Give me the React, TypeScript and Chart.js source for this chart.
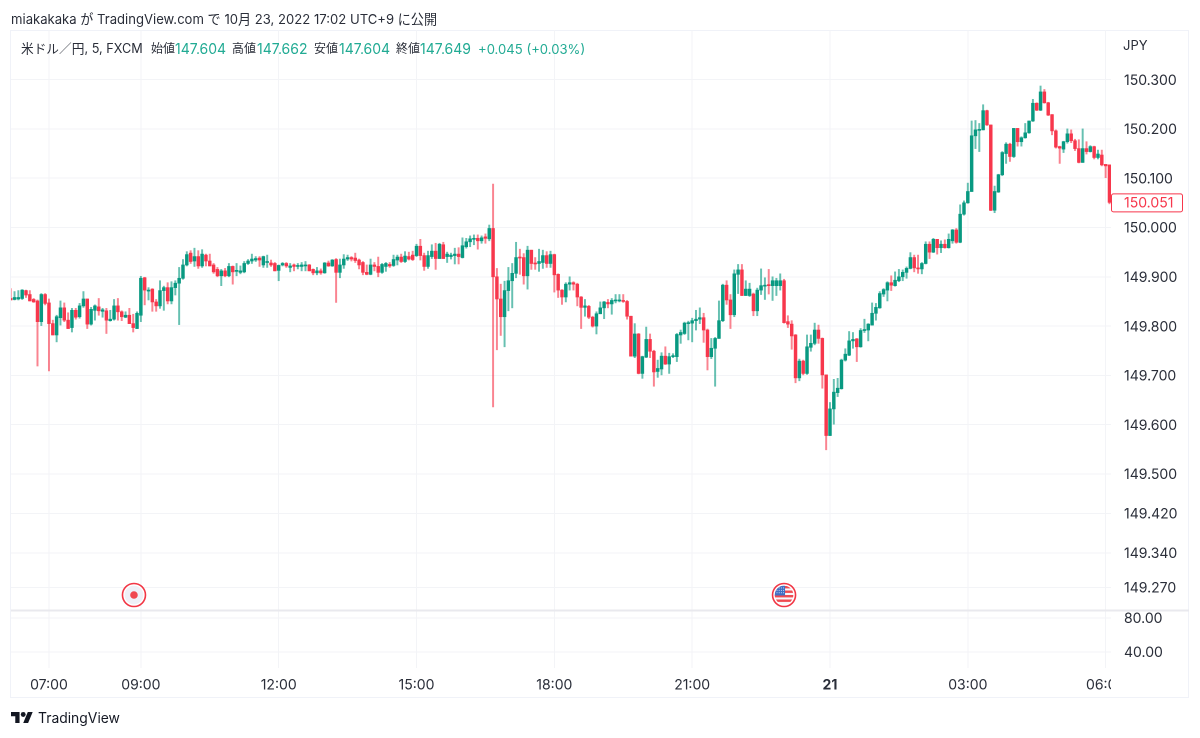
import React, { useEffect, useRef } from "react";
import { Chart, registerables } from "chart.js";

Chart.register(...registerables);

const opens = [
149.856,149.854,149.855,149.856,149.872,149.864,149.854,149.851,149.809,149.864,149.847,149.805,
149.782,149.817,149.837,149.812,149.797,149.832,149.819,149.841,149.855,149.804,149.832,149.839,
149.830,149.831,149.811,149.814,149.841,149.829,149.818,149.822,149.805,149.795,149.822,149.898,
149.871,149.875,149.849,149.841,149.872,149.878,149.851,149.878,149.887,149.897,149.924,149.948,
149.932,149.941,149.922,149.944,149.932,149.924,149.915,149.902,149.912,149.902,149.921,149.911,
149.909,149.910,149.927,149.932,149.934,149.938,149.924,149.929,149.928,149.927,149.913,149.924,
149.927,149.919,149.924,149.921,149.921,149.922,149.924,149.915,149.908,149.912,149.908,149.928,
149.922,149.935,149.909,149.924,149.936,149.939,149.938,149.934,149.929,149.909,149.905,149.924,
149.921,149.909,149.921,149.925,149.923,149.934,149.940,149.931,149.941,149.944,149.943,149.962,
149.943,149.921,149.941,149.952,149.937,149.965,149.941,149.941,149.943,149.946,149.939,149.961,
149.971,149.976,149.978,149.973,149.981,149.977,149.998,149.900,149.855,149.819,149.872,149.892,
149.907,149.940,149.939,149.902,149.954,149.928,149.927,149.929,149.943,149.927,149.945,149.905,
149.873,149.859,149.885,149.888,149.885,149.859,149.838,149.840,149.818,149.800,149.825,149.837,
149.848,149.845,149.851,149.851,149.852,149.850,149.820,149.739,149.784,149.704,149.737,149.773,
149.749,149.708,149.713,149.739,149.723,149.738,149.738,149.782,149.785,149.805,149.806,149.811,
149.814,149.817,149.792,149.738,149.755,149.775,149.811,149.883,149.853,149.823,149.905,149.914,
149.862,149.862,149.865,149.831,149.873,149.881,149.883,149.882,149.882,149.882,149.892,149.809,
149.804,149.782,149.695,149.729,149.704,149.757,149.765,149.792,149.775,149.701,149.578,149.632,
149.665,149.673,149.731,149.741,149.770,149.774,149.758,149.791,149.792,149.802,149.826,149.837,
149.865,149.873,149.888,149.882,149.892,149.900,149.909,149.917,149.939,149.918,149.916,149.927,
149.966,149.950,149.976,149.959,149.966,149.959,149.973,149.995,149.970,150.027,150.050,150.073,
150.186,150.197,150.198,150.237,150.208,150.035,150.072,150.107,150.150,150.169,150.144,150.201,
150.174,150.182,150.192,150.216,150.252,150.238,150.275,150.253,150.229,150.196,150.164,150.159,
150.174,150.190,150.176,150.160,150.132,150.160,150.154,150.164,150.142,150.147,150.128,150.127,
];

const highs = [
149.876,149.870,149.872,149.874,149.873,149.872,149.856,149.853,149.866,149.866,149.855,149.812,
149.822,149.851,149.847,149.827,149.836,149.836,149.846,149.870,149.855,149.838,149.843,149.856,
149.836,149.836,149.832,149.854,149.856,149.831,149.829,149.836,149.824,149.829,149.901,149.899,
149.878,149.876,149.854,149.892,149.881,149.888,149.890,149.892,149.919,149.935,149.951,149.953,
149.958,149.953,149.955,149.946,149.946,149.927,149.919,149.915,149.917,149.927,149.922,149.927,
149.922,149.931,149.935,149.946,149.941,149.941,149.942,149.944,149.934,149.929,149.924,149.929,
149.929,149.927,149.926,149.927,149.929,149.931,149.925,149.916,149.919,149.916,149.929,149.932,
149.935,149.937,149.936,149.945,149.944,149.941,149.948,149.936,149.931,149.924,149.936,149.929,
149.940,149.927,149.929,149.929,149.944,149.944,149.946,149.951,149.950,149.952,149.966,149.976,
149.948,149.952,149.965,149.968,149.968,149.970,149.950,149.948,149.958,149.959,149.979,149.978,
149.983,149.985,149.985,149.983,149.987,150.005,150.088,149.917,149.885,149.891,149.919,149.927,
149.970,149.956,149.947,149.962,149.954,149.939,149.956,149.954,149.951,149.952,149.946,149.906,
149.874,149.888,149.900,149.890,149.887,149.860,149.854,149.842,149.820,149.829,149.849,149.850,
149.854,149.856,149.864,149.864,149.864,149.852,149.820,149.805,149.785,149.739,149.798,149.784,
149.751,149.731,149.746,149.758,149.745,149.744,149.785,149.792,149.808,149.810,149.816,149.832,
149.837,149.826,149.794,149.775,149.777,149.851,149.885,149.892,149.864,149.914,149.925,149.925,
149.892,149.887,149.867,149.877,149.916,149.898,149.915,149.900,149.897,149.906,149.895,149.821,
149.811,149.783,149.733,149.731,149.782,149.782,149.806,149.802,149.776,149.701,149.645,149.692,
149.694,149.733,149.754,149.789,149.787,149.775,149.795,149.814,149.805,149.847,149.846,149.870,
149.876,149.890,149.902,149.910,149.915,149.914,149.920,149.949,149.944,149.944,149.929,149.971,
149.971,149.978,149.976,149.973,149.975,149.987,149.996,149.998,150.046,150.054,150.090,150.216,
150.217,150.211,150.249,150.238,150.208,150.084,150.108,150.154,150.172,150.171,150.201,150.201,
150.184,150.211,150.216,150.260,150.253,150.287,150.280,150.254,150.229,150.198,150.165,150.175,
150.200,150.198,150.179,150.178,150.200,150.174,150.166,150.165,150.157,150.157,150.128,150.127,
];

const lows = [
149.853,149.853,149.853,149.854,149.858,149.851,149.848,149.719,149.801,149.843,149.709,149.782,
149.768,149.802,149.809,149.795,149.788,149.814,149.816,149.838,149.795,149.802,149.812,149.822,
149.818,149.785,149.810,149.812,149.812,149.811,149.817,149.805,149.788,149.795,149.809,149.843,
149.853,149.830,149.830,149.836,149.832,149.845,149.845,149.863,149.803,149.895,149.922,149.927,
149.921,149.917,149.919,149.922,149.922,149.907,149.900,149.882,149.900,149.900,149.885,149.902,
149.906,149.908,149.925,149.927,149.931,149.921,149.919,149.919,149.921,149.912,149.892,149.922,
149.919,149.910,149.912,149.916,149.912,149.912,149.912,149.904,149.904,149.905,149.907,149.921,
149.921,149.848,149.898,149.917,149.933,149.932,149.929,149.916,149.904,149.904,149.904,149.912,
149.900,149.907,149.911,149.919,149.921,149.924,149.929,149.929,149.934,149.933,149.941,149.934,
149.913,149.917,149.937,149.915,149.937,149.937,149.929,149.936,149.926,149.926,149.938,149.958,
149.961,149.965,149.956,149.968,149.968,149.973,149.636,149.752,149.781,149.758,149.831,149.837,
149.898,149.905,149.885,149.875,149.915,149.915,149.911,149.917,149.919,149.919,149.869,149.858,
149.844,149.849,149.873,149.873,149.841,149.795,149.820,149.815,149.798,149.784,149.825,149.815,
149.837,149.824,149.847,149.849,149.848,149.814,149.739,149.736,149.703,149.694,149.736,149.736,
149.678,149.696,149.701,149.722,149.704,149.736,149.728,149.765,149.783,149.772,149.768,149.792,
149.805,149.767,149.711,149.734,149.678,149.775,149.809,149.844,149.795,149.819,149.866,149.862,
149.862,149.860,149.821,149.821,149.864,149.854,149.865,149.852,149.862,149.873,149.806,149.797,
149.753,149.685,149.689,149.701,149.702,149.749,149.762,149.765,149.674,149.549,149.578,149.601,
149.657,149.672,149.729,149.740,149.755,149.728,149.757,149.787,149.770,149.802,149.812,149.836,
149.860,149.851,149.872,149.881,149.890,149.892,149.897,149.916,149.910,149.907,149.906,149.926,
149.937,149.949,149.946,149.949,149.958,149.958,149.968,149.968,149.969,150.025,150.049,150.073,
150.160,150.154,150.198,150.207,150.034,150.030,150.071,150.105,150.130,150.134,150.142,150.165,
150.165,150.181,150.191,150.215,150.237,150.237,150.252,150.227,150.188,150.161,150.130,150.152,
150.171,150.172,150.156,150.131,150.132,150.149,150.153,150.139,150.139,150.125,150.101,150.048,
];

const closes = [
149.853,149.858,149.858,149.873,149.863,149.851,149.849,149.809,149.864,149.846,149.805,149.782,
149.819,149.837,149.812,149.795,149.832,149.818,149.841,149.855,149.804,149.834,149.841,149.831,
149.833,149.812,149.814,149.841,149.829,149.819,149.822,149.805,149.797,149.826,149.897,149.873,
149.873,149.849,149.841,149.872,149.878,149.851,149.878,149.887,149.897,149.924,149.945,149.931,
149.941,149.922,149.946,149.932,149.922,149.910,149.902,149.912,149.902,149.921,149.910,149.913,
149.912,149.927,149.932,149.936,149.937,149.934,149.941,149.931,149.924,149.912,149.923,149.927,
149.922,149.922,149.921,149.923,149.924,149.924,149.912,149.908,149.912,149.908,149.928,149.922,
149.934,149.909,149.924,149.936,149.939,149.936,149.933,149.924,149.909,149.905,149.924,149.921,
149.909,149.925,149.927,149.922,149.935,149.940,149.931,149.942,149.936,149.935,149.962,149.943,
149.921,149.943,149.952,149.937,149.966,149.937,149.946,149.944,149.946,149.941,149.963,149.971,
149.977,149.978,149.973,149.979,149.978,149.998,149.900,149.855,149.819,149.872,149.892,149.907,
149.939,149.938,149.902,149.954,149.927,149.926,149.931,149.943,149.927,149.945,149.904,149.873,
149.859,149.885,149.888,149.885,149.859,149.838,149.841,149.818,149.800,149.825,149.837,149.849,
149.845,149.852,149.853,149.853,149.850,149.820,149.739,149.784,149.704,149.738,149.773,149.749,
149.707,149.714,149.739,149.723,149.738,149.740,149.783,149.787,149.806,149.807,149.811,149.814,
149.817,149.792,149.738,149.755,149.775,149.811,149.883,149.853,149.823,149.906,149.914,149.862,
149.875,149.875,149.831,149.873,149.882,149.883,149.882,149.892,149.892,149.892,149.807,149.804,
149.780,149.695,149.729,149.704,149.758,149.765,149.792,149.775,149.701,149.578,149.632,149.666,
149.674,149.731,149.743,149.770,149.773,149.758,149.791,149.793,149.804,149.826,149.838,149.866,
149.874,149.888,149.883,149.893,149.900,149.909,149.917,149.939,149.918,149.916,149.927,149.966,
149.950,149.976,149.959,149.966,149.959,149.976,149.995,149.970,150.027,150.050,150.073,150.186,
150.198,150.199,150.237,150.208,150.035,150.073,150.107,150.152,150.169,150.144,150.201,150.174,
150.182,150.192,150.216,150.252,150.238,150.275,150.253,150.228,150.196,150.163,150.161,150.174,
150.190,150.176,150.160,150.132,150.160,150.154,150.164,150.142,150.149,150.127,150.125,150.051,
];

const timeTickIndex = [10, 34, 70, 106, 142, 178, 214, 250, 286];
const timeTickLabels = ["07:00", "09:00", "12:00", "15:00", "18:00", "21:00", "21", "03:00", "06:00"];
const priceTicks = [150.3, 150.2, 150.1, 150.0, 149.9, 149.8, 149.7, 149.6, 149.5, 149.42, 149.34, 149.27];
const indicatorTicks = [80, 40];
const lastPrice = 150.051;
const dotEventIndex = 32.2;
const flagEventIndex = 202;

const UP = "#089981";
const DOWN = "#f7374c";
const UP_WICK = "rgba(8,153,129,0.62)";
const DOWN_WICK = "rgba(247,55,76,0.62)";
const GRID = "#f3f4f7";
const FRAME = "#f0f2f8";
const TEXT = "#2a2e39";
const FONT = "Inter, 'Noto Sans CJK JP', sans-serif";

const panePlugin = {
  id: "panes",
  beforeDraw(chart: any) {
    const { ctx } = chart;
    ctx.save();
    ctx.fillStyle = "#ffffff";
    ctx.fillRect(0, 0, chart.width, chart.height);
    ctx.strokeStyle = FRAME;
    ctx.lineWidth = 1;
    ctx.strokeRect(10.5, 30.5, 1178, 667);
    ctx.restore();
  },
  afterDraw(chart: any) {
    const { ctx, scales } = chart;
    const x = scales.x;
    const y = scales.y;
    ctx.save();
    // pane separator
    ctx.fillStyle = "#e9e9ee";
    ctx.fillRect(11, y.bottom - 0.5, 1178, 2);
    // time label is cut off by the right edge of the time axis
    ctx.fillStyle = "#ffffff";
    ctx.fillRect(x.right, 670, 40, 26);

    // last price label
    const py = y.getPixelForValue(lastPrice);
    ctx.beginPath();
    ctx.roundRect(1111.5, py - 8.5, 71, 18, 2);
    ctx.fillStyle = "#ffffff";
    ctx.fill();
    ctx.strokeStyle = DOWN;
    ctx.lineWidth = 1;
    ctx.stroke();
    ctx.fillStyle = DOWN;
    ctx.font = "14px " + FONT;
    ctx.textBaseline = "middle";
    ctx.textAlign = "left";
    ctx.fillText(lastPrice.toFixed(3), 1124, py + 1);

    // event markers
    const my = y.bottom - 15;
    const ring = (cx: number) => {
      ctx.beginPath();
      ctx.arc(cx, my, 11.5, 0, Math.PI * 2);
      ctx.fillStyle = "#ffffff";
      ctx.fill();
      ctx.strokeStyle = "#f23645";
      ctx.lineWidth = 1.6;
      ctx.stroke();
    };
    const dx = x.getPixelForValue(dotEventIndex);
    ring(dx);
    ctx.beginPath();
    ctx.arc(dx, my, 9.3, 0, Math.PI * 2);
    ctx.fillStyle = "#eef0f7";
    ctx.fill();
    ctx.beginPath();
    ctx.arc(dx, my, 3.8, 0, Math.PI * 2);
    ctx.fillStyle = "#f0474f";
    ctx.fill();

    const fx = x.getPixelForValue(flagEventIndex);
    ring(fx);
    ctx.save();
    ctx.beginPath();
    ctx.arc(fx, my, 9.3, 0, Math.PI * 2);
    ctx.clip();
    ctx.fillStyle = "#f7f7fb";
    ctx.fillRect(fx - 10, my - 10, 20, 20);
    ctx.fillStyle = "#ef4a50";
    for (const s of [-9, -4.5, 0, 4.5]) ctx.fillRect(fx - 10, my + s, 20, 2.4);
    ctx.fillStyle = "#3f6fc4";
    ctx.fillRect(fx - 10, my - 10, 11, 10.5);
    ctx.fillStyle = "#dfe7f7";
    for (let r = 0; r < 3; r++) for (let c = 0; c < 4; c++) ctx.fillRect(fx - 7.5 + c * 2.2, my - 7.5 + r * 2.4, 0.9, 0.9);
    ctx.restore();
    ctx.restore();
  },
};

const abs = (left: number, top: number, size: number, extra: any = {}) => ({
  position: "absolute",
  left,
  top,
  fontSize: size,
  lineHeight: "18px",
  whiteSpace: "nowrap",
  fontFamily: FONT,
  color: TEXT,
  ...extra,
});

const GREEN_TXT = "#22ab94";

export default function App() {
  const ref = useRef<HTMLCanvasElement>(null);
  useEffect(() => {
    const idx = opens.map((_, i) => i);
    const isUp = (i: number) => closes[i] >= opens[i];
    const chart = new Chart(ref.current as any, {
      type: "bar",
      data: {
        datasets: [
          {
            label: "wick",
            data: idx.map((i) => ({ x: i, y: [lows[i], highs[i]] })) as any,
            backgroundColor: idx.map((i) => (isUp(i) ? UP_WICK : DOWN_WICK)),
            barThickness: 1.3,
            grouped: false,
            order: 2,
          } as any,
          {
            label: "body",
            data: idx.map((i) => ({ x: i, y: [opens[i], closes[i]] })) as any,
            backgroundColor: idx.map((i) => (isUp(i) ? UP : DOWN)),
            barThickness: 2.8,
            minBarLength: 1,
            grouped: false,
            order: 1,
          } as any,
        ],
      },
      plugins: [panePlugin as any],
      options: {
        responsive: false,
        animation: false,
        devicePixelRatio: 2,
        layout: { padding: { left: 11, top: 30, right: 11, bottom: 40 } },
        plugins: { legend: { display: false }, tooltip: { enabled: false } },
        scales: {
          x: {
            type: "linear",
            min: 0.08,
            max: 287.4,
            offset: false,
            border: { display: false },
            grid: { color: GRID, drawTicks: false, offset: false },
            afterFit: (s: any) => {
              s.height = 30;
            },
            afterBuildTicks: (s: any) => {
              s.ticks = timeTickIndex.map((v) => ({ value: v }));
            },
            ticks: {
              autoSkip: false,
              maxRotation: 0,
              includeBounds: false,
              padding: 9,
              color: TEXT,
              font: (c: any) =>
                c.tick && c.tick.value === 214
                  ? { family: FONT, size: 14, weight: "bold" }
                  : { family: FONT, size: 14 },
              callback: (v: any) => timeTickLabels[timeTickIndex.indexOf(Number(v))] ?? "",
            },
          } as any,
          y: {
            type: "linear",
            position: "right",
            stack: "price",
            stackWeight: 580,
            min: 149.2241,
            max: 150.4006,
            border: { display: false },
            grid: { color: GRID, drawTicks: false },
            afterFit: (s: any) => {
              s.width = 78;
            },
            afterBuildTicks: (s: any) => {
              s.ticks = priceTicks.map((v) => ({ value: v }));
            },
            ticks: {
              padding: 13,
              labelOffset: 1,
              autoSkip: false,
              color: TEXT,
              font: { family: FONT, size: 14 },
              callback: (v: any) => Number(v).toFixed(3),
            },
          } as any,
          yInd: {
            type: "linear",
            position: "right",
            stack: "price",
            stackWeight: 58,
            min: 21.18,
            max: 89.41,
            border: { display: false },
            grid: { color: GRID, drawTicks: false },
            afterFit: (s: any) => {
              s.width = 78;
            },
            afterBuildTicks: (s: any) => {
              s.ticks = indicatorTicks.map((v) => ({ value: v }));
            },
            ticks: {
              padding: 13,
              labelOffset: 1,
              autoSkip: false,
              color: TEXT,
              font: { family: FONT, size: 14 },
              callback: (v: any) => Number(v).toFixed(2),
            },
          } as any,
        },
      },
    });
    return () => chart.destroy();
  }, []);

  const g = { color: GREEN_TXT };
  return (
    <div style={{ position: "fixed", left: 0, top: 0, width: 1200, height: 738, background: "#fff", overflow: "hidden" }}>
      <canvas ref={ref} width={1200} height={738} style={{ position: "absolute", left: 0, top: 0, width: 1200, height: 738 }} />
      <div style={abs(11, 10, 13.1) as any}>miakakaka が TradingView.com で 10月 23, 2022 17:02 UTC+9 に公開</div>
      <div style={abs(21, 40, 12.7) as any}>米ドル／円, 5, FXCM</div>
      <div style={abs(151, 40, 12) as any}>始値</div>
      <div style={abs(175, 40, 14, g) as any}>147.604</div>
      <div style={abs(232, 40, 12) as any}>高値</div>
      <div style={abs(257, 40, 14, g) as any}>147.662</div>
      <div style={abs(314, 40, 12) as any}>安値</div>
      <div style={abs(339, 40, 14, g) as any}>147.604</div>
      <div style={abs(396, 40, 12) as any}>終値</div>
      <div style={abs(420, 40, 14, g) as any}>147.649</div>
      <div style={abs(478, 40, 13.1, g) as any}>+0.045 (+0.03%)</div>
      <div style={abs(1123, 36, 13) as any}>JPY</div>
      <svg style={{ position: "absolute", left: 11, top: 712 }} width={22} height={11} viewBox="0 4 36 18">
        <path d="M14 22H7V11H0V4h14v18zM28 22h-8l7.5-18h8L28 22z" fill="#131722" />
        <circle cx={20} cy={8} r={4} fill="#131722" />
      </svg>
      <div style={abs(38, 709, 13.9, { color: "#131722" }) as any}>TradingView</div>
    </div>
  );
}
